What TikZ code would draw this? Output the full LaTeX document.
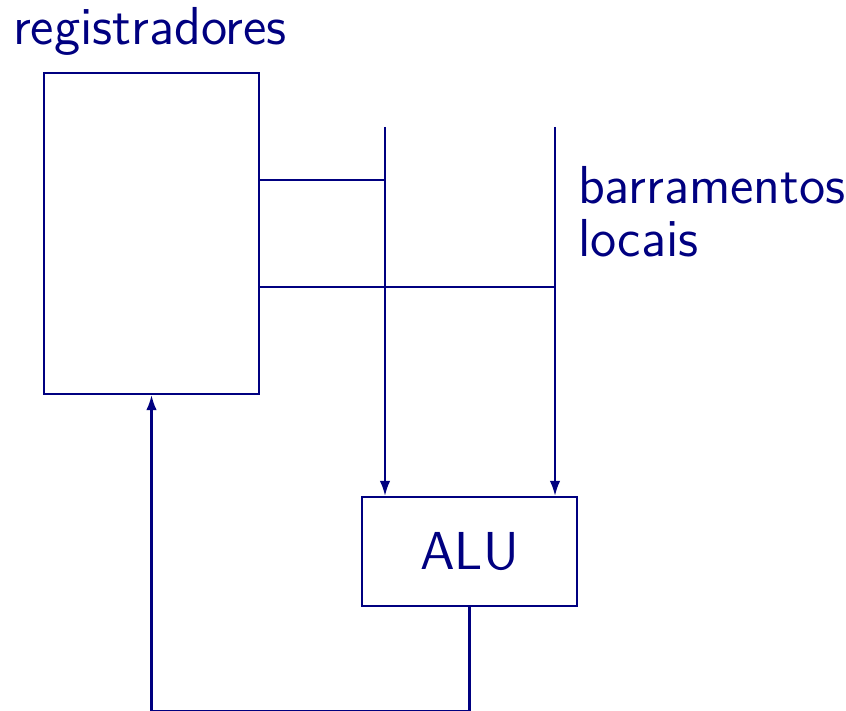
\documentclass[tikz,border=0pt]{standalone}
\usepackage{tikz}
\usetikzlibrary{arrows,arrows.meta,positioning,calc}
\definecolor{darkblue}{HTML}{000080}

\begin{document}
\begin{tikzpicture}[line width=0.6pt, darkblue, font=\sffamily\fontsize{15.2pt}{18pt}\selectfont,
    box/.style={draw=darkblue, text=darkblue},
    feed/.style={-{Latex[length=4.3pt,width=3pt]}}]
    \useasboundingbox (0,0) rectangle (8.46,7.11);

    % Register file
    \node[box, minimum width=2.15cm, minimum height=3.21cm] (regs) at (1.515,4.775) {};
    \node[anchor=base, text=darkblue] (regslabel) at (1.50,6.66) {registradores};

    % ALU
    \node[box, minimum width=2.15cm, minimum height=1.09cm] (alu) at (4.695,1.595) {ALU};

    % Local buses
    \coordinate (busa) at (3.85,5.84);
    \coordinate (busb) at (5.55,5.84);
    \draw[feed] (busa) -- (busa |- alu.north);
    \draw[feed] (busb) -- (busb |- alu.north);
    \node[anchor=north west, align=left, text=darkblue, inner sep=0pt] (buslabel) at (5.77,5.46)
        {barramentos\\[-2.9pt]locais};

    % Register outputs onto the buses
    \draw (regs.east |- 0,5.31) -- (busa |- 0,5.31);
    \draw (regs.east |- 0,4.24) -- (busb |- 0,4.24);

    % Result back to the registers
    \coordinate (back) at (regs.south |- 0,0);
    \draw[feed] (alu.south) -- (alu.south |- back) -- (back) -- (regs.south);
\end{tikzpicture}
\end{document}
